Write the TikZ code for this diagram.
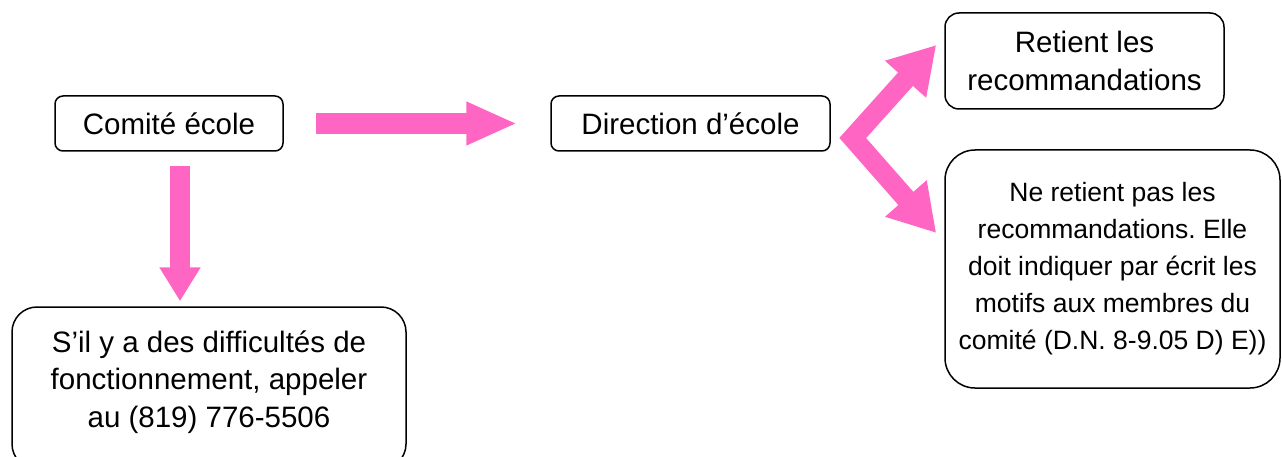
\documentclass[tikz,border=0pt]{standalone}
\usepackage{fontspec}
\setmainfont{Liberation Sans}
\usetikzlibrary{arrows.meta}
\definecolor{flowpink}{RGB}{255,102,196}
\frenchspacing
\begin{document}
\begin{tikzpicture}[x=1pt,y=1pt,
  box/.style={draw=black, line width=1.5pt, rounded corners=#1, align=center,
    inner sep=0pt, font=\fontsize{29.5}{37.5}\selectfont},
  box/.default=8pt,
  blockarrow/.style={draw=flowpink, line width=20pt, line join=miter}]
\useasboundingbox (0,0) rectangle (1282,456);
\clip (0,0) rectangle (1282,456);

% boxes
\node[box, minimum width=228pt, minimum height=55pt] (comite) at (169,332.5) {Comité école};
\node[box, minimum width=279pt, minimum height=55pt] (direction) at (690.5,332.5) {Direction d’école};
\node[box=14pt, minimum width=279pt, minimum height=96pt] (retient) at (1084.5,395)
  {Retient les\\recommandations};
\node[box=30pt, minimum width=335pt, minimum height=238pt,
  font=\fontsize{26.5}{37}\selectfont] (neretient) at (1112.5,187)
  {Ne retient pas les\\recommandations. Elle\\doit indiquer par écrit les\\motifs aux membres du\\comité (D.N. 8-9.05 D) E))};
\node[box=25pt, minimum width=394pt, minimum height=162pt, text depth=18pt] (sil) at (209,68)
  {S’il y a des difficultés de\\fonctionnement, appeler\\au (819) 776-5506};

% arrow ends
\coordinate (hstart) at ([xshift=32pt]comite.east);
\coordinate (hend) at ([xshift=-33pt]direction.west);
\coordinate (vstart) at ([xshift=11pt,yshift=-14pt]comite.south);
\coordinate (vend) at ([xshift=-29pt,yshift=5pt]sil.north);
\coordinate (fork) at ([xshift=22pt,yshift=-14.5pt]direction.east);
\coordinate (upend) at ([xshift=-8pt,yshift=16pt]retient.west);
\coordinate (downend) at ([xshift=-8pt,yshift=36pt]neretient.west);

% block arrows
\draw[blockarrow, line width=21pt, -{Triangle[length=51pt,width=40pt]}] (hstart) -- (hend);
\draw[blockarrow, -{Triangle[length=34pt,width=39pt]}] (vstart) -- (vend);
\draw[blockarrow, {Triangle[length=46pt,width=52pt]}-{Triangle[length=46pt,width=52pt]}]
  (upend) -- (fork) -- (downend);
\end{tikzpicture}
\end{document}
